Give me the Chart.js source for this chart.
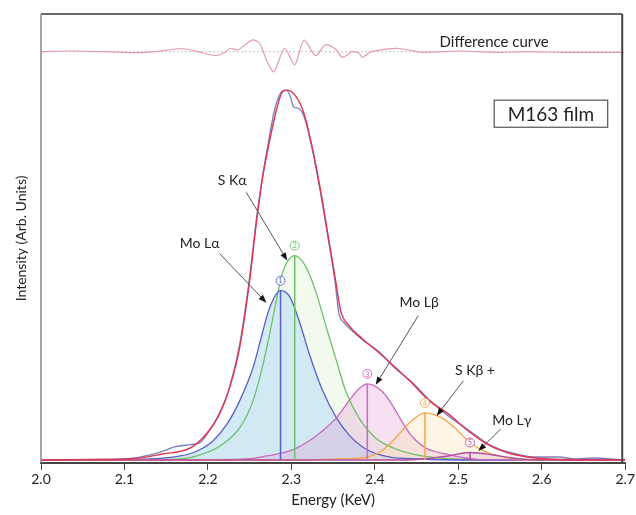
<!DOCTYPE html>
<html>
<head>
<meta charset="utf-8">
<script src="https://cdn.jsdelivr.net/npm/chart.js@4.4.1/dist/chart.umd.min.js"></script>
<style>
  html, body { margin: 0; padding: 0; background: #fff; }
  #wrap { width: 636px; height: 515px; }
</style>
</head>
<body>
<div id="wrap"><canvas id="chart" width="636" height="515"></canvas></div>
<script>
// measured spectrum + fit (Energy keV, intensity arb.)
const fitEnergy = [2.000, 2.071, 2.107, 2.146, 2.179, 2.198, 2.214, 2.226, 2.238, 2.250, 2.258, 2.265, 2.274, 2.282, 2.289, 2.295, 2.306, 2.315, 2.325, 2.335, 2.345, 2.353, 2.359, 2.369, 2.385, 2.405, 2.425, 2.444, 2.464, 2.488, 2.512, 2.536, 2.560, 2.592, 2.628, 2.700];
const fitIntensity = [0, 0.5, 1, 6, 12, 26, 46, 72, 112, 179, 236, 279, 319, 349, 367, 369, 362, 346, 312, 269, 219, 179, 149, 134, 121, 107, 92, 77, 60, 46, 29, 15, 7, 2, 0.5, 0];

const measEnergy = [2.000, 2.071, 2.107, 2.140, 2.160, 2.176, 2.190, 2.200, 2.214, 2.226, 2.238, 2.250, 2.258, 2.265, 2.272, 2.280, 2.289, 2.294, 2.299, 2.303, 2.308, 2.315, 2.325, 2.335, 2.345, 2.352, 2.357, 2.362, 2.369, 2.385, 2.405, 2.425, 2.444, 2.464, 2.488, 2.512, 2.536, 2.560, 2.592, 2.620, 2.640, 2.660, 2.700];
const measIntensity = [0, 0.5, 1.5, 7, 13, 15, 17, 27, 47, 73, 115, 183, 240, 281, 315, 350, 368, 369, 362, 352, 351, 343, 310, 266, 216, 180, 146, 138, 132, 120, 108, 91, 78, 61, 44, 30, 16, 8, 3, 3, 1, 2, 0];

// fitted components
const peak1Energy = [2.000, 2.080, 2.131, 2.167, 2.187, 2.206, 2.223, 2.238, 2.254, 2.265, 2.274, 2.287, 2.298, 2.310, 2.321, 2.337, 2.354, 2.369, 2.389, 2.417, 2.452, 2.512, 2.700];
const peak1Intensity = [0, 0.3, 1, 4, 9, 19, 36, 59, 92, 126, 152, 169, 163, 137, 107, 70, 42, 25, 11, 3, 1, 0, 0];

const peak2Energy = [2.000, 2.100, 2.167, 2.194, 2.218, 2.238, 2.254, 2.265, 2.274, 2.282, 2.289, 2.304, 2.318, 2.330, 2.342, 2.354, 2.365, 2.381, 2.401, 2.425, 2.456, 2.492, 2.548, 2.700];
const peak2Intensity = [0, 0.3, 1, 6, 16, 32, 59, 92, 126, 159, 186, 204, 192, 166, 132, 99, 69, 42, 22, 11, 4, 1, 0, 0];

const peak3Energy = [2.000, 2.200, 2.246, 2.270, 2.298, 2.321, 2.337, 2.354, 2.369, 2.381, 2.391, 2.408, 2.420, 2.432, 2.444, 2.461, 2.485, 2.508, 2.536, 2.700];
const peak3Intensity = [0, 0.3, 1, 4, 9, 19, 29, 42, 59, 71, 76, 69, 56, 39, 24, 12, 6, 2, 0, 0];

const peak4Energy = [2.000, 2.310, 2.357, 2.385, 2.408, 2.425, 2.440, 2.460, 2.480, 2.496, 2.508, 2.520, 2.536, 2.560, 2.592, 2.700];
const peak4Intensity = [0, 0, 1, 2, 9, 22, 36, 47, 42, 32, 22, 14, 7, 2, 0, 0];

const peak5Energy = [2.000, 2.429, 2.464, 2.488, 2.514, 2.542, 2.565, 2.601, 2.700];
const peak5Intensity = [0, 0, 1.5, 4, 7.5, 5, 2, 0, 0];

const peakCenters = [2.287, 2.304, 2.391, 2.460, 2.514];
const peakHeights = [169, 204, 76, 47, 7.5];

// residual (difference curve), shown on its own offset axis
const diffEnergy = [2.001, 2.037, 2.077, 2.117, 2.137, 2.161, 2.173, 2.188, 2.210, 2.220, 2.227, 2.236, 2.244, 2.254, 2.262, 2.271, 2.279, 2.292, 2.304, 2.315, 2.329, 2.340, 2.346, 2.354, 2.361, 2.373, 2.381, 2.385, 2.396, 2.425, 2.440, 2.456, 2.504, 2.544, 2.583, 2.623, 2.698];
const diffValue = [0, 0.7, 0, -1, 0, 2.7, 2.7, 0, -4, -0.6, 3.4, 1.7, 6.7, 11.7, 8.4, -10, -20, 3.4, -13.3, 11.7, -4, 6.7, 6, 1.7, -5.6, 0, -1.6, -5.6, 0, 3.4, 1.7, -0.6, 0.7, -0.6, 0, -0.6, -0.6];

const xTickMin = 2.0;
const xTickMax = 2.7;

const peakColors = ['#5b5fc9', '#6cc26a', '#c868c0', '#f5a44c', '#b24e9e'];
const peakFills = ['rgba(196,226,244,0.72)', 'rgba(212,240,198,0.30)', 'rgba(226,148,208,0.30)', 'rgba(253,226,180,0.35)', 'rgba(220,170,210,0.30)'];
// paint rank: green first, then blue, pink, orange, peak 5 on top
const peakRank = [2, 1, 3, 4, 5];

const labelText = ['Mo L\u03b1', 'S K\u03b1', 'Mo L\u03b2', 'S K\u03b2 +', 'Mo L\u03b3'];
const labelPos = [[2.190, 216], [2.229, 279], [2.453, 157], [2.520, 89], [2.564, 39]];
const arrowFrom = [[2.214, 206], [2.246, 267], [2.452, 144], [2.506, 79], [2.551, 31]];
const arrowTo = [[2.270, 157], [2.295, 199], [2.401, 75], [2.474, 44], [2.524, 9]];

function xy(xs, ys) {
    return xs.map((x, i) => ({ x: x, y: ys[i] }));
}

const FONT = 'Lato, "Open Sans", sans-serif';

const peakSeries = [
    [peak1Energy, peak1Intensity],
    [peak2Energy, peak2Intensity],
    [peak3Energy, peak3Intensity],
    [peak4Energy, peak4Intensity],
    [peak5Energy, peak5Intensity]
];

const datasets = [];

peakSeries.forEach((p, i) => {
    datasets.push({
        label: 'Peak ' + (i + 1),
        data: xy(p[0], p[1]),
        borderColor: peakColors[i],
        backgroundColor: peakFills[i],
        borderWidth: 1.3,
        fill: 'origin',
        order: 20 - peakRank[i]   // higher order is painted first
    });
    datasets.push({
        label: 'Centre ' + (i + 1),
        data: [{ x: peakCenters[i], y: 0 }, { x: peakCenters[i], y: peakHeights[i] }],
        borderColor: peakColors[i],
        borderWidth: 1.5,
        fill: false,
        order: 4
    });
});

datasets.push({
    label: 'Measured',
    data: xy(measEnergy, measIntensity),
    borderColor: '#7b7fb8',
    borderWidth: 1.3,
    fill: false,
    order: 2
});
datasets.push({
    label: 'Fit',
    data: xy(fitEnergy, fitIntensity),
    borderColor: '#e2334f',
    borderWidth: 1.4,
    fill: false,
    order: 1
});
datasets.push({
    label: 'Zero',
    data: [{ x: xTickMin, y: 0 }, { x: xTickMax, y: 0 }],
    borderColor: '#c4c4c4',
    borderWidth: 1,
    borderDash: [2, 2],
    fill: false,
    yAxisID: 'y2',
    order: 3
});
datasets.push({
    label: 'Difference',
    data: xy(diffEnergy, diffValue),
    borderColor: '#e79aae',
    borderWidth: 1.2,
    fill: false,
    yAxisID: 'y2',
    cubicInterpolationMode: 'default',
    tension: 0.25,
    order: 2
});

function drawArrow(ctx, x1, y1, x2, y2) {
    const ang = Math.atan2(y2 - y1, x2 - x1);
    const len = 8, half = 3;
    ctx.beginPath();
    ctx.moveTo(x1, y1);
    ctx.lineTo(x2 - Math.cos(ang) * len * 0.8, y2 - Math.sin(ang) * len * 0.8);
    ctx.strokeStyle = '#555';
    ctx.lineWidth = 1;
    ctx.stroke();
    ctx.beginPath();
    ctx.moveTo(x2, y2);
    ctx.lineTo(x2 - Math.cos(ang) * len + Math.sin(ang) * half, y2 - Math.sin(ang) * len - Math.cos(ang) * half);
    ctx.lineTo(x2 - Math.cos(ang) * len - Math.sin(ang) * half, y2 - Math.sin(ang) * len + Math.cos(ang) * half);
    ctx.closePath();
    ctx.fillStyle = '#111';
    ctx.fill();
}

const overlayPlugin = {
    id: 'overlay',
    afterDatasetsDraw(chart) {
        const { ctx, chartArea: a, scales } = chart;
        const x = scales.x, y = scales.y, y2 = scales.y2;
        ctx.save();

        // frame (top, left, right)
        ctx.strokeStyle = '#6a6a6a';
        ctx.lineWidth = 2;
        ctx.beginPath(); ctx.moveTo(a.left, a.top); ctx.lineTo(a.right - 3, a.top); ctx.stroke();
        ctx.lineWidth = 1.5;
        ctx.strokeStyle = '#888';
        ctx.beginPath(); ctx.moveTo(a.left, a.top); ctx.lineTo(a.left, a.bottom); ctx.stroke();
        ctx.strokeStyle = '#444';
        ctx.lineWidth = 2;
        ctx.beginPath(); ctx.moveTo(a.right - 3, a.top); ctx.lineTo(a.right - 3, a.bottom); ctx.stroke();

        // circled peak numbers
        peakCenters.forEach((c, i) => {
            const px = x.getPixelForValue(c);
            const py = y.getPixelForValue(peakHeights[i]) - 10;
            ctx.beginPath();
            ctx.arc(px, py, 4.5, 0, Math.PI * 2);
            ctx.fillStyle = '#fff';
            ctx.fill();
            ctx.strokeStyle = peakColors[i];
            ctx.lineWidth = 0.9;
            ctx.stroke();
            ctx.fillStyle = peakColors[i];
            ctx.font = '7px ' + FONT;
            ctx.textAlign = 'center';
            ctx.textBaseline = 'middle';
            ctx.fillText(String(i + 1), px, py + 0.5);
        });

        // line labels with arrows
        labelText.forEach((t, i) => {
            drawArrow(ctx,
                x.getPixelForValue(arrowFrom[i][0]), y.getPixelForValue(arrowFrom[i][1]),
                x.getPixelForValue(arrowTo[i][0]), y.getPixelForValue(arrowTo[i][1]));
            ctx.fillStyle = '#222';
            ctx.font = '14px ' + FONT;
            ctx.textAlign = 'center';
            ctx.textBaseline = 'middle';
            ctx.fillText(t, x.getPixelForValue(labelPos[i][0]), y.getPixelForValue(labelPos[i][1]));
        });

        // difference curve caption
        ctx.fillStyle = '#222';
        ctx.font = '15px ' + FONT;
        ctx.textAlign = 'center';
        ctx.textBaseline = 'middle';
        ctx.fillText('Difference curve', x.getPixelForValue(2.543), y2.getPixelForValue(9.7));

        // sample box
        const bx1 = x.getPixelForValue(2.543), bx2 = x.getPixelForValue(2.679);
        const by1 = y.getPixelForValue(359), by2 = y.getPixelForValue(332);
        ctx.fillStyle = '#fff';
        ctx.fillRect(bx1, by1, bx2 - bx1, by2 - by1);
        ctx.strokeStyle = '#555';
        ctx.lineWidth = 1.2;
        ctx.strokeRect(bx1, by1, bx2 - bx1, by2 - by1);
        ctx.fillStyle = '#222';
        ctx.font = '19px ' + FONT;
        ctx.fillText('M163 film', (bx1 + bx2) / 2, (by1 + by2) / 2 + 1);

        ctx.restore();
    }
};

new Chart(document.getElementById('chart').getContext('2d'), {
    type: 'line',
    data: { datasets },
    options: {
        responsive: false,
        animation: false,
        layout: { padding: { top: 14, right: 10, left: 0, bottom: 0 } },
        elements: {
            point: { radius: 0 },
            line: { tension: 0.4, cubicInterpolationMode: 'monotone' }
        },
        scales: {
            x: {
                type: 'linear',
                min: xTickMin,
                max: xTickMax,
                afterFit: (s) => { s.height = 52; },
                ticks: {
                    stepSize: 0.1,
                    color: '#222',
                    font: { family: FONT, size: 14 },
                    padding: 1,
                    maxRotation: 0,
                    callback: (v) => Number(v).toFixed(1)
                },
                grid: { display: true, drawOnChartArea: false, drawTicks: true, tickLength: 7, color: '#444' },
                border: { display: true, color: '#444', width: 2 },
                title: { display: true, text: 'Energy (KeV)', color: '#222', font: { family: FONT, size: 15 }, padding: { top: 0, bottom: 6 } }
            },
            y: {
                min: -3,
                max: 445,
                afterFit: (s) => { s.width = 41; },
                ticks: { display: false },
                grid: { display: false },
                border: { display: false },
                title: { display: true, text: 'Intensity (Arb. Units)', color: '#222', font: { family: FONT, size: 14 }, padding: { top: 13, bottom: 0 } }
            },
            y2: {
                display: false,
                min: -410.4,
                max: 37.6
            }
        },
        plugins: {
            legend: { display: false },
            tooltip: { enabled: false },
            filler: { drawTime: 'beforeDatasetsDraw' }
        }
    },
    plugins: [overlayPlugin]
});
</script>
</body>
</html>
